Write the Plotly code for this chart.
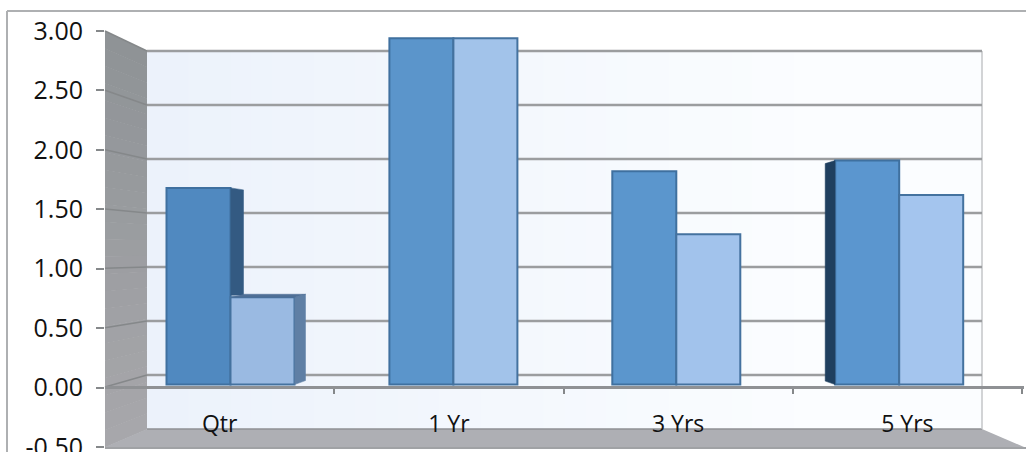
import plotly.graph_objects as go

categories = ["Qtr", "1 Yr", "3 Yrs", "5 Yrs"]
series_a = [1.68, 2.94, 1.82, 1.91]
series_b = [0.76, 2.94, 1.29, 1.62]
y_ticks = [-0.5, 0, 0.5, 1, 1.5, 2, 2.5, 3]
y_labels = ["-0.50", "0.00", "0.50", "1.00", "1.50", "2.00", "2.50", "3.00"]
colors_a = ["#5089c0", "#5b95cb", "#5b96cd", "#5b96cf"]
colors_b = ["#9abae2", "#a2c3ea", "#a2c3ec", "#a4c5ee"]

W, H = 1026, 452
L, T, B = 105, 31, 447
PW, PH = W - L, B - T
BAR_BASE = 0.025
CAT0, CATW = 230.5, 222.9
GROUP = 128 / CATW
GRID = "#9b9d9f"
AXIS_END = 1022


def px(x):
    return (x - L) / PW


def py(y):
    return (B - y) / PH


def back(v):
    return 375 - 108 * v


def front(v):
    return 387 - 118.67 * v


shapes = []


def poly(pts, fill, line=None, lw=0):
    d = "M " + " L ".join(f"{px(a):.5f},{py(b):.5f}" for a, b in pts) + " Z"
    shapes.append(dict(type="path", xref="paper", yref="paper", path=d, fillcolor=fill,
                       line=dict(color=line or fill, width=lw), layer="below"))


def seg(x0, y0, x1, y1, color, width):
    shapes.append(dict(type="line", xref="paper", yref="paper", x0=px(x0), y0=py(y0),
                       x1=px(x1), y1=py(y1), line=dict(color=color, width=width), layer="below"))


def mix(c0, c1, t):
    return "rgb(" + ",".join(str(round(a + (b - a) * t)) for a, b in zip(c0, c1)) + ")"


# back wall (horizontal gradient)
n = 40
for i in range(n):
    x0 = 147 + (982 - 147) * i / n
    x1 = 147 + (982 - 147) * (i + 1) / n + 1
    c = mix((236, 242, 251), (251, 253, 255), min(1, i / (n * 0.8)))
    poly([(x0, 51), (min(x1, 982), 51), (min(x1, 982), 429), (x0, 429)], c)

# side wall (vertical gradient)
n = 24
for i in range(n):
    t0, t1 = i / n, (i + 1) / n
    yl0, yl1 = 31 + 416 * t0, 31 + 416 * t1
    yr0, yr1 = 51 + 378 * t0, 51 + 378 * t1
    c = mix((143, 147, 150), (168, 168, 172), t0)
    poly([(105, yl0), (147, yr0), (147, yr1 + 0.5), (105, yl1 + 0.5)], c)

# floor
poly([(105, 447), (147, 429), (982, 429), (1024, 447)], "#aeafb4")
seg(147, 429, 982, 429, "#8f9194", 1.5)
seg(105, 448, 1026, 448, "#a0a2a5", 2)
seg(982, 51, 982, 429, "#c4c6c8", 1.5)

# grid on back wall and side wall
for v in y_ticks[1:]:
    seg(147, back(v), 982, back(v), GRID, 2.5)
for v in y_ticks[1:]:
    seg(105, front(v), 147, back(v), "#85888a", 1.5)

# outer frame
seg(7, 11, 7, 452, "#aeb0b2", 2)
seg(7, 11, 1026, 11, "#aeb0b2", 2)

x_idx = list(range(len(categories)))
hw = GROUP / 2
dx = 1 / CATW

fig = go.Figure()
fig.add_bar(x=x_idx, y=[v - BAR_BASE for v in series_a], base=BAR_BASE,
            marker=dict(color=colors_a, line=dict(color="#3f709f", width=2)),
            xaxis="x2", yaxis="y", showlegend=False)
fig.add_bar(x=x_idx, y=[v - BAR_BASE for v in series_b], base=BAR_BASE,
            marker=dict(color=colors_b, line=dict(color="#44729f", width=2)),
            xaxis="x2", yaxis="y", showlegend=False)


def face(xs, ys, color):
    fig.add_scatter(x=xs, y=ys, mode="lines", fill="toself", fillcolor=color,
                    line=dict(color=color, width=0.5), xaxis="x2", yaxis="y", showlegend=False, hoverinfo="skip")


# side faces seen in perspective
qa, qb = series_a[0], series_b[0]
edge_a, edge_b = 0 + 0.0, 0 + hw
face([edge_a, edge_a + 13 * dx, edge_a + 13 * dx, edge_a],
     [qa, qa - 2 / 118.67, qb + 2 / 118.67, qb + 2 / 118.67], "#335a82")
face([edge_b, edge_b + 11 * dx, edge_b + 11 * dx, edge_b],
     [qb, qb + 3 / 118.67, BAR_BASE + 4 / 118.67, BAR_BASE], "#5f7fa5")
face([edge_a, edge_b, edge_b + 11 * dx, edge_a + 13 * dx],
     [qb, qb, qb + 3 / 118.67, qb + 3 / 118.67], "#4f6f96")
ea = 3 - hw
sa = series_a[3]
face([ea, ea - 10 * dx, ea - 10 * dx, ea],
     [sa, sa - 3 / 118.67, BAR_BASE + 3.5 / 118.67, BAR_BASE], "#1f3f5f")

# invisible anchors so the two helper axes are drawn
fig.add_scatter(x=[0, 4], y=[0, 0], mode="markers", marker=dict(opacity=0), xaxis="x", yaxis="y",
                showlegend=False, hoverinfo="skip")
cat_pos = [i + 0.5 for i in x_idx]
fig.add_scatter(x=cat_pos, y=[0] * 4, mode="markers", marker=dict(opacity=0), xaxis="x3", yaxis="y",
                showlegend=False, hoverinfo="skip")

FONT = "Open Sans"
fig.update_layout(
    width=W, height=H,
    margin=dict(l=L, r=0, t=T, b=H - B, pad=0, autoexpand=False),
    paper_bgcolor="white", plot_bgcolor="rgba(0,0,0,0)",
    barmode="group", bargap=1 - GROUP, bargroupgap=0,
    shapes=shapes, showlegend=False,
    font=dict(family=FONT, color="#111111"),
    yaxis=dict(range=[-0.5, 3], tickvals=y_ticks, ticktext=y_labels, ticks="outside", ticklen=8,
               tickcolor="#85888a", tickwidth=1.5, showgrid=False, zeroline=False, showline=False,
               ticklabelstandoff=8, ticklabeloverflow="allow",
               tickfont=dict(size=25, family=FONT)),
    xaxis=dict(domain=[0, (AXIS_END + 2 - L) / PW], range=[0, (AXIS_END + 2 - L) / 229.25], anchor="free",
               position=py(387), tickvals=[1, 2, 3, 4],
               showticklabels=False, ticks="outside", ticklen=5, tickcolor="#85888a", tickwidth=1.5,
               showgrid=False, zeroline=False, showline=True, linecolor="#8f9194", linewidth=3),
    xaxis2=dict(overlaying="x", range=[(L - CAT0) / CATW, (AXIS_END + 2 - CAT0) / CATW], visible=False, anchor="y"),
    xaxis3=dict(overlaying="x", range=[0, (AXIS_END + 2 - L) / 229.25], anchor="free", position=py(408),
                tickvals=cat_pos, ticktext=categories, ticks="", showgrid=False, zeroline=False, showline=False,
                tickfont=dict(size=23, family=FONT)),
)
fig.write_html("out.html", config=dict(displayModeBar=False),
               post_script="document.body.style.margin='0';document.body.style.overflow='hidden';")
